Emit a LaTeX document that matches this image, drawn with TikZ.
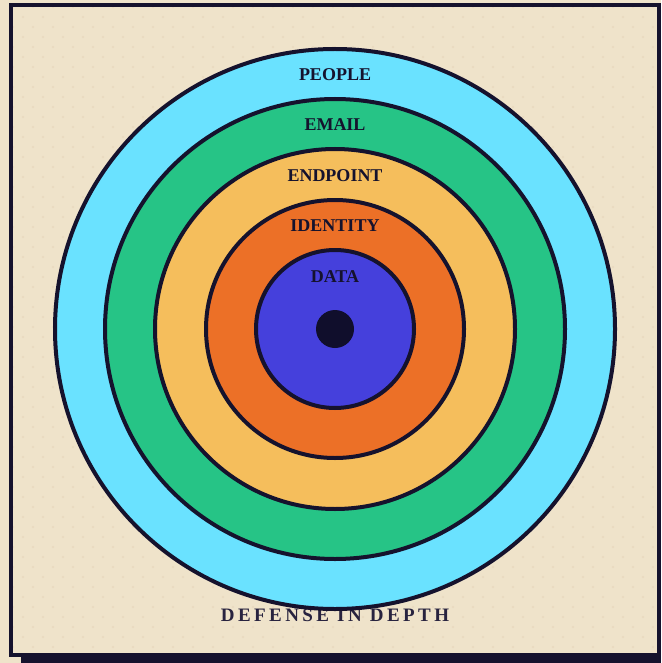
\documentclass[tikz,border=0pt]{standalone}
\usepackage{fontspec}
\setmainfont{Liberation Serif}
\newfontfamily\spacedfont[LetterSpace=18]{Liberation Serif}
\definecolor{bgbeige}{HTML}{EFE3CA}
\definecolor{dotcol}{HTML}{E6D3B8}
\definecolor{ink}{HTML}{15122D}
\definecolor{ringcyan}{HTML}{6AE2FF}
\definecolor{ringgreen}{HTML}{26C486}
\definecolor{ringyellow}{HTML}{F5BE5C}
\definecolor{ringorange}{HTML}{EC7027}
\definecolor{ringblue}{HTML}{4540DC}
\definecolor{coredark}{HTML}{100E2C}
\definecolor{titleink}{HTML}{28233F}
\tikzset{
  ring/.style={draw=ink, line width=4pt},
  ringlabel/.style={font=\bfseries\fontsize{18}{20}\selectfont, text=ink, inner sep=0pt, anchor=center},
}
\begin{document}
\begin{tikzpicture}[x=1pt,y=-1pt]
\useasboundingbox (0,0) rectangle (661,663);
\fill[bgbeige] (0,0) rectangle (661,663);
% shadow
\fill[ink] (21,15) rectangle (661,663);
% frame
\fill[bgbeige] (11,5) rectangle (659,655);
\begin{scope}
\clip (13,7) rectangle (657,653);
\foreach \i in {0,...,66}{
  \foreach \j in {0,...,33}{
    \fill[dotcol, opacity=0.55] ({13+\i*10}, {7+\j*20 + mod(\i,2)*10}) circle (1.3);
  }
}
\end{scope}
\draw[ink, line width=4pt] (11,5) rectangle (659,655);
% title (under the rings)
\node[font=\spacedfont\bfseries\fontsize{19}{21}\selectfont, text=titleink, inner sep=0pt, anchor=base] (title) at (335,621) {DEFENSE IN DEPTH};
% rings
\coordinate (c) at (335,329);
\draw[ring, fill=ringcyan] (c) circle (280);
\draw[ring, fill=ringgreen] (c) circle (230);
\draw[ring, fill=ringyellow] (c) circle (180);
\draw[ring, fill=ringorange] (c) circle (129);
\draw[ring, fill=ringblue] (c) circle (79);
\fill[coredark] (c) circle (19);
% labels
\node[ringlabel] (people) at (335,75) {PEOPLE};
\node[ringlabel] (email) at (335,125) {EMAIL};
\node[ringlabel] (endpoint) at (335,176) {ENDPOINT};
\node[ringlabel] (identity) at (335,226) {IDENTITY};
\node[ringlabel] (data) at (335,277) {DATA};
\end{tikzpicture}
\end{document}
